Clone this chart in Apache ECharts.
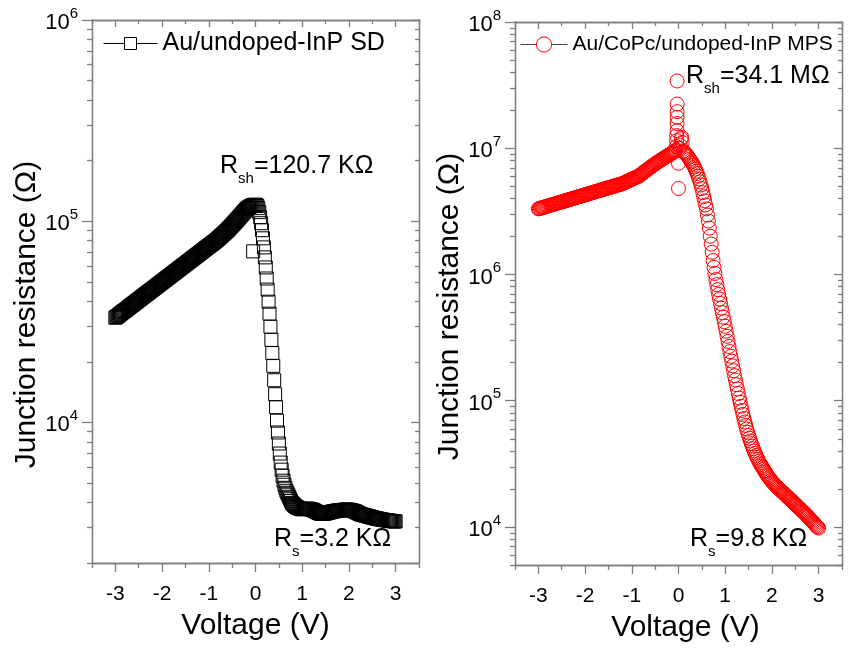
<!DOCTYPE html>
<html><head><meta charset="utf-8">
<script src="https://cdn.jsdelivr.net/npm/echarts@6/dist/echarts.min.js"></script>
<style>html,body{margin:0;padding:0;background:#fff}#c{width:851px;height:648px}</style>
</head><body><div id="c"></div>
<script>
// ---------- data ----------
const voltage = [
-3,-2.98,-2.96,-2.94,-2.92,-2.9,-2.88,-2.86,-2.84,-2.82,
-2.8,-2.78,-2.76,-2.74,-2.72,-2.7,-2.68,-2.66,-2.64,-2.62,
-2.6,-2.58,-2.56,-2.54,-2.52,-2.5,-2.48,-2.46,-2.44,-2.42,
-2.4,-2.38,-2.36,-2.34,-2.32,-2.3,-2.28,-2.26,-2.24,-2.22,
-2.2,-2.18,-2.16,-2.14,-2.12,-2.1,-2.08,-2.06,-2.04,-2.02,
-2,-1.98,-1.96,-1.94,-1.92,-1.9,-1.88,-1.86,-1.84,-1.82,
-1.8,-1.78,-1.76,-1.74,-1.72,-1.7,-1.68,-1.66,-1.64,-1.62,
-1.6,-1.58,-1.56,-1.54,-1.52,-1.5,-1.48,-1.46,-1.44,-1.42,
-1.4,-1.38,-1.36,-1.34,-1.32,-1.3,-1.28,-1.26,-1.24,-1.22,
-1.2,-1.18,-1.16,-1.14,-1.12,-1.1,-1.08,-1.06,-1.04,-1.02,
-1,-0.98,-0.96,-0.94,-0.92,-0.9,-0.88,-0.86,-0.84,-0.82,
-0.8,-0.78,-0.76,-0.74,-0.72,-0.7,-0.68,-0.66,-0.64,-0.62,
-0.6,-0.58,-0.56,-0.54,-0.52,-0.5,-0.48,-0.46,-0.44,-0.42,
-0.4,-0.38,-0.36,-0.34,-0.32,-0.3,-0.28,-0.26,-0.24,-0.22,
-0.2,-0.18,-0.16,-0.14,-0.12,-0.1,-0.08,-0.06,-0.04,-0.02,
0,0.02,0.04,0.06,0.08,0.1,0.12,0.14,0.16,0.18,
0.2,0.22,0.24,0.26,0.28,0.3,0.32,0.34,0.36,0.38,
0.4,0.42,0.44,0.46,0.48,0.5,0.52,0.54,0.56,0.58,
0.6,0.62,0.64,0.66,0.68,0.7,0.72,0.74,0.76,0.78,
0.8,0.82,0.84,0.86,0.88,0.9,0.92,0.94,0.96,0.98,
1,1.02,1.04,1.06,1.08,1.1,1.12,1.14,1.16,1.18,
1.2,1.22,1.24,1.26,1.28,1.3,1.32,1.34,1.36,1.38,
1.4,1.42,1.44,1.46,1.48,1.5,1.52,1.54,1.56,1.58,
1.6,1.62,1.64,1.66,1.68,1.7,1.72,1.74,1.76,1.78,
1.8,1.82,1.84,1.86,1.88,1.9,1.92,1.94,1.96,1.98,
2,2.02,2.04,2.06,2.08,2.1,2.12,2.14,2.16,2.18,
2.2,2.22,2.24,2.26,2.28,2.3,2.32,2.34,2.36,2.38,
2.4,2.42,2.44,2.46,2.48,2.5,2.52,2.54,2.56,2.58,
2.6,2.62,2.64,2.66,2.68,2.7,2.72,2.74,2.76,2.78,
2.8,2.82,2.84,2.86,2.88,2.9,2.92,2.94,2.96,2.98,
3];

// Au/undoped-InP SD, junction resistance in kOhm
const sdResistanceK = [
33.1,33.4,33.7,33.9,34.2,34.5,34.8,35.1,35.4,35.7,
35.9,36.2,36.5,36.8,37.1,37.5,37.8,38.1,38.4,38.7,
39.0,39.3,39.7,40.0,40.3,40.7,41.0,41.3,41.7,42.0,
42.4,42.7,43.1,43.4,43.8,44.1,44.5,44.9,45.2,45.6,
46.0,46.3,46.7,47.1,47.5,47.9,48.3,48.7,49.1,49.5,
49.9,50.3,50.7,51.1,51.6,52.0,52.4,52.8,53.3,53.7,
54.2,54.6,55.0,55.5,56.0,56.4,56.9,57.4,57.8,58.3,
58.8,59.3,59.8,60.2,60.7,61.2,61.7,62.3,62.8,63.3,
63.8,64.3,64.9,65.4,65.9,66.5,67.0,67.6,68.1,68.7,
69.3,69.8,70.4,71.0,71.6,72.2,72.8,73.4,74.0,74.6,
75.2,
75.8,76.4,77.0,77.6,78.3,78.9,79.5,80.3,81.0,81.8,
82.6,83.4,84.1,85.0,85.9,86.7,87.6,88.4,89.3,90.2,
91.2,92.3,93.3,94.4,95.5,96.6,97.7,98.9,100.0,101.2,
102.4,103.8,105.1,106.4,107.6,108.9,110.3,111.7,113.0,114.3,
115.3,116.3,117.2,118.0,118.9,119.4,120.0,120.4,120.6,120.7,
120.2,118.9,116.1,110.9,104.7,97.7,90.2,82.2,74.1,66.1,
58.9,51.9,45.7,39.8,34.7,29.9,25.7,22.1,19.1,16.2,
13.8,11.9,10.2,8.91,7.85,7.00,6.31,5.82,5.43,5.13,
4.90,4.73,4.57,4.47,4.37,4.27,4.17,4.07,3.98,3.94,
3.89,3.85,3.82,3.79,3.77,3.75,3.74,3.72,3.71,3.70,
3.70,3.71,3.71,3.72,3.72,3.72,3.72,3.71,3.70,3.69,
3.68,3.66,3.64,3.62,3.60,3.58,3.56,3.54,3.53,3.52,
3.51,3.51,3.51,3.52,3.53,3.54,3.55,3.56,3.57,3.58,
3.59,3.60,3.61,3.62,3.62,3.63,3.64,3.64,3.65,3.65,
3.66,3.66,3.67,3.67,3.68,3.68,3.68,3.68,3.68,3.68,
3.67,3.66,3.65,3.64,3.63,3.62,3.60,3.58,3.56,3.54,
3.52,3.50,3.49,3.48,3.47,3.46,3.45,3.44,3.43,3.42,
3.41,3.40,3.39,3.38,3.37,3.36,3.35,3.34,3.33,3.33,
3.32,3.31,3.30,3.30,3.29,3.28,3.28,3.27,3.27,3.26,
3.26,3.25,3.25,3.24,3.24,3.23,3.23,3.22,3.22,3.22];
const sdOutlierV = [-0.05];
const sdOutlierK = [70.8];

// Au/CoPc/undoped-InP MPS, junction resistance in Ohm
const mpsResistance = [
3.31e6,3.33e6,3.35e6,3.36e6,3.38e6,3.40e6,3.41e6,3.43e6,3.45e6,3.47e6,
3.49e6,3.50e6,3.52e6,3.54e6,3.56e6,3.58e6,3.59e6,3.61e6,3.63e6,3.65e6,
3.67e6,3.69e6,3.71e6,3.73e6,3.74e6,3.76e6,3.78e6,3.80e6,3.82e6,3.84e6,
3.86e6,3.88e6,3.90e6,3.92e6,3.94e6,3.96e6,3.98e6,4.00e6,4.02e6,4.04e6,
4.06e6,4.09e6,4.11e6,4.13e6,4.15e6,4.17e6,4.19e6,4.21e6,4.23e6,4.26e6,
4.28e6,4.30e6,4.32e6,4.34e6,4.37e6,4.39e6,4.41e6,4.43e6,4.46e6,4.48e6,
4.50e6,4.53e6,4.55e6,4.57e6,4.60e6,4.62e6,4.64e6,4.67e6,4.69e6,4.72e6,
4.74e6,4.76e6,4.79e6,4.81e6,4.84e6,4.86e6,4.89e6,4.91e6,4.94e6,4.96e6,
4.99e6,5.01e6,5.04e6,5.07e6,5.09e6,5.12e6,5.14e6,5.17e6,5.20e6,5.22e6,
5.25e6,
5.29e6,5.33e6,5.37e6,5.42e6,5.46e6,5.50e6,5.55e6,5.59e6,5.64e6,5.68e6,
5.72e6,5.77e6,5.82e6,5.86e6,5.91e6,5.95e6,6.00e6,6.06e6,6.14e6,6.22e6,
6.30e6,6.38e6,6.46e6,6.55e6,6.63e6,6.72e6,6.81e6,6.89e6,6.98e6,7.07e6,
7.16e6,7.25e6,7.35e6,7.44e6,7.54e6,7.62e6,7.71e6,7.79e6,7.87e6,7.96e6,
8.05e6,8.14e6,8.23e6,8.32e6,8.41e6,8.51e6,8.60e6,8.69e6,8.78e6,8.87e6,
8.96e6,9.05e6,9.15e6,9.24e6,9.33e6,9.50e6,9.66e6,
null,null,null,null,null,null,null,
9.44e6,9.29e6,9.14e6,8.97e6,8.79e6,8.61e6,8.41e6,8.20e6,8.00e6,7.80e6,
7.59e6,7.35e6,7.10e6,6.84e6,6.58e6,6.31e6,6.01e6,5.71e6,5.41e6,5.11e6,
4.79e6,4.45e6,4.13e6,3.84e6,3.56e6,3.31e6,2.96e6,2.65e6,2.33e6,2.01e6,
1.74e6,1.50e6,1.29e6,1.14e6,1.02e6,9.12e5,8.32e5,7.59e5,6.95e5,6.40e5,
5.89e5,5.42e5,4.99e5,4.59e5,4.23e5,3.89e5,
3.55e5,3.24e5,2.95e5,2.69e5,2.45e5,2.25e5,2.06e5,1.89e5,1.73e5,1.58e5,
1.46e5,1.34e5,1.24e5,1.14e5,1.05e5,9.73e4,9.04e4,8.39e4,7.80e4,7.24e4,
6.79e4,6.37e4,5.97e4,5.62e4,5.31e4,5.05e4,4.80e4,4.57e4,4.37e4,4.17e4,
4.00e4,3.84e4,3.69e4,3.56e4,3.43e4,3.32e4,3.21e4,3.12e4,3.03e4,2.95e4,
2.87e4,2.79e4,2.72e4,2.64e4,2.57e4,2.51e4,2.45e4,2.40e4,2.34e4,2.29e4,
2.25e4,2.21e4,2.17e4,2.13e4,2.09e4,2.06e4,2.02e4,1.99e4,1.96e4,1.93e4,
1.90e4,1.87e4,1.84e4,1.81e4,1.78e4,1.75e4,1.72e4,1.69e4,1.67e4,1.64e4,
1.61e4,1.59e4,1.56e4,1.54e4,1.51e4,1.49e4,1.47e4,1.44e4,1.42e4,1.40e4,
1.37e4,1.35e4,1.33e4,1.31e4,1.29e4,1.26e4,1.24e4,1.22e4,1.20e4,1.17e4,
1.15e4,1.13e4,1.11e4,1.09e4,1.07e4,1.05e4,1.03e4,1.01e4,9.95e3,9.80e3];
const mpsPeakV = [-0.05,-0.04,-0.04,-0.03,-0.03,-0.03,-0.03,-0.03,-0.03,0,0,0.02,0.04,0.06,0.07,0.08];
const mpsPeakR = [1.03e7,1.15e7,1.26e7,1.38e7,1.57e7,1.76e7,1.95e7,2.24e7,3.41e7,7.6e6,4.8e6,1.0e7,1.05e7,1.19e7,1.22e7,1.11e7];

// ---------- ticks & labels ----------
const xMajorTicks = [-3,-2,-1,0,1,2,3];
const xMinorTicks = [-3.5,-2.5,-1.5,-0.5,0.5,1.5,2.5,3.5];
const sdYMajor = [1e4,1e5,1e6];
const sdYMinor = [2e3,3e3,4e3,5e3,6e3,7e3,8e3,9e3,2e4,3e4,4e4,5e4,6e4,7e4,8e4,9e4,2e5,3e5,4e5,5e5,6e5,7e5,8e5,9e5];
const mpsYMajor = [1e4,1e5,1e6,1e7,1e8];
const mpsYMinor = [5e3,6e3,7e3,8e3,9e3,2e4,3e4,4e4,5e4,6e4,7e4,8e4,9e4,2e5,3e5,4e5,5e5,6e5,7e5,8e5,9e5,
  2e6,3e6,4e6,5e6,6e6,7e6,8e6,9e6,2e7,3e7,4e7,5e7,6e7,7e7,8e7,9e7];
const sdName = 'Au/undoped-InP SD';
const mpsName = 'Au/CoPc/undoped-InP MPS';
const xTitle = 'Voltage (V)';
const yTitle = 'Junction resistance (\u03A9)';

// ---------- build ----------
const FONT = '"Liberation Sans", Arial, sans-serif';
const FRAME = '#7d7d7d';

function buildPairs(vs, rs, scale, exV, exR) {
  const pts = [];
  vs.forEach((v, i) => { if (rs[i] != null) pts.push([v, rs[i] * scale]); });
  exV.forEach((v, i) => pts.push([v, exR[i] * scale]));
  pts.sort((a, b) => a[0] - b[0]);
  return pts;
}
const sdData = buildPairs(voltage, sdResistanceK, 1000, sdOutlierV, sdOutlierK);
const mpsData = buildPairs(voltage, mpsResistance, 1, mpsPeakV, mpsPeakR);

const tickLine = {color: FRAME, width: 1.3};
function xAxes(g, titlePad) {
  const base = {gridIndex: g, type: 'value', min: -3.5, max: 3.5, splitLine: {show: false},
    axisLine: {show: true, onZero: false, lineStyle: {color: FRAME, width: 1.3}}};
  return [
    Object.assign({}, base, {position: 'bottom',
      axisTick: {show: true, inside: false, length: 9, customValues: xMajorTicks, lineStyle: tickLine},
      axisLabel: {show: true, customValues: xMajorTicks, fontSize: 21, color: '#000', margin: 21, fontFamily: FONT},
      name: xTitle, nameLocation: 'middle', nameGap: 48,
      nameTextStyle: {fontSize: 30, lineHeight: 30, color: '#000', fontFamily: FONT, padding: titlePad}}),
    Object.assign({}, base, {position: 'bottom',
      axisTick: {show: true, inside: false, length: 5, customValues: xMinorTicks, lineStyle: tickLine},
      axisLabel: {show: false}}),
    Object.assign({}, base, {position: 'top',
      axisTick: {show: true, inside: true, length: 7, customValues: xMajorTicks, lineStyle: tickLine},
      axisLabel: {show: false}}),
    Object.assign({}, base, {position: 'top',
      axisTick: {show: true, inside: true, length: 4, customValues: xMinorTicks, lineStyle: tickLine},
      axisLabel: {show: false}})
  ];
}
const powRich = {
  b: {fontSize: 22, lineHeight: 28, verticalAlign: 'bottom', color: '#000', fontFamily: FONT},
  s: {fontSize: 15, lineHeight: 15, verticalAlign: 'top', color: '#000', fontFamily: FONT}
};
function yAxes(g, min, max, major, minor, nameGap, titlePad) {
  const base = {gridIndex: g, type: 'log', logBase: 10, min: min, max: max, splitLine: {show: false},
    axisLine: {show: true, onZero: false, lineStyle: {color: FRAME, width: 1.3}}};
  return [
    Object.assign({}, base, {position: 'left',
      axisTick: {show: true, inside: false, length: 10, customValues: major, lineStyle: tickLine},
      axisLabel: {show: true, customValues: major, margin: 14, fontSize: 22, fontFamily: FONT,
        formatter: v => '{b|10}{s|' + Math.round(Math.log10(v)) + '}', rich: powRich},
      name: yTitle, nameLocation: 'middle', nameGap: nameGap, nameRotate: 90,
      nameTextStyle: {fontSize: 30, lineHeight: 30, color: '#000', fontFamily: FONT, padding: titlePad}}),
    Object.assign({}, base, {position: 'left',
      axisTick: {show: true, inside: false, length: 5, customValues: minor, lineStyle: tickLine},
      axisLabel: {show: false}}),
    Object.assign({}, base, {position: 'right',
      axisTick: {show: true, inside: true, length: 8, customValues: major, lineStyle: tickLine},
      axisLabel: {show: false}}),
    Object.assign({}, base, {position: 'right',
      axisTick: {show: true, inside: true, length: 4, customValues: minor, lineStyle: tickLine},
      axisLabel: {show: false}})
  ];
}

const annRich = {
  m: {fontSize: 25, lineHeight: 25, verticalAlign: 'top', fill: '#000', fontFamily: FONT},
  s: {fontSize: 15, lineHeight: 15, verticalAlign: 'top', padding: [17, 0, 0, 0], fill: '#000', fontFamily: FONT}
};
function ann(x, y, sub, rest) {
  return {type: 'text', x: x, y: y, z: 10,
    style: {text: '{m|R}{s|' + sub + '}{m|' + rest + '}', rich: annRich, fill: '#000', verticalAlign: 'top', font: '25px ' + FONT}};
}

const chart = echarts.init(document.getElementById('c'), null, {renderer: 'canvas'});
chart.setOption({
  animation: false,
  backgroundColor: '#ffffff',
  textStyle: {fontFamily: FONT},
  grid: [
    {left: 92, top: 20, width: 327, height: 543},
    {left: 515, top: 22, width: 327, height: 543}
  ],
  xAxis: xAxes(0, [0, 0, 0, 0]).concat(xAxes(1, [0, 0, 0, 14])),
  yAxis: yAxes(0, 2000, 1e6, sdYMajor, sdYMinor, 49, [0, 46, 0, 0])
    .concat(yAxes(1, 5000, 1e8, mpsYMajor, mpsYMinor, 43, [0, 26, 0, 0])),
  legend: [
    {data: [sdName], left: 103, top: 31, padding: 0, itemWidth: 54, itemHeight: 15, selectedMode: false,
      itemStyle: {color: '#ffffff', borderColor: '#000000', borderWidth: 1},
      lineStyle: {color: '#000000', width: 1, opacity: 1},
      textStyle: {fontSize: 25, color: '#000', fontFamily: FONT, padding: [0, 0, 10, 0]}},
    {data: [mpsName], left: 520, top: 34, padding: 0, itemWidth: 47, itemHeight: 19, selectedMode: false,
      itemStyle: {color: '#ffffff', borderColor: '#ff0000', borderWidth: 1},
      lineStyle: {color: '#444444', width: 1, opacity: 1},
      textStyle: {fontSize: 21, color: '#000', fontFamily: FONT}}
  ],
  series: [
    {type: 'line', name: sdName, xAxisIndex: 0, yAxisIndex: 0, data: sdData,
      symbol: 'rect', symbolSize: 13, showSymbol: true, showAllSymbol: true,
      itemStyle: {color: 'rgba(255,255,255,0)', borderColor: '#000000', borderWidth: 1},
      lineStyle: {color: '#000000', width: 1, opacity: 0}, emphasis: {disabled: true}, z: 3},
    {type: 'line', name: mpsName, xAxisIndex: 4, yAxisIndex: 4, data: mpsData,
      symbol: 'circle', symbolSize: 14, showSymbol: true, showAllSymbol: true,
      itemStyle: {color: 'rgba(255,255,255,0)', borderColor: '#ff0000', borderWidth: 1},
      lineStyle: {color: '#444444', width: 1, opacity: 0}, emphasis: {disabled: true}, z: 3}
  ],
  graphic: [
    ann(220, 154, 'sh', '=120.7 K\u03A9'),
    ann(274, 527, 's', '=3.2 K\u03A9'),
    ann(686, 64, 'sh', '=34.1 M\u03A9'),
    ann(690, 527, 's', '=9.8 K\u03A9')
  ]
});
</script></body></html>
